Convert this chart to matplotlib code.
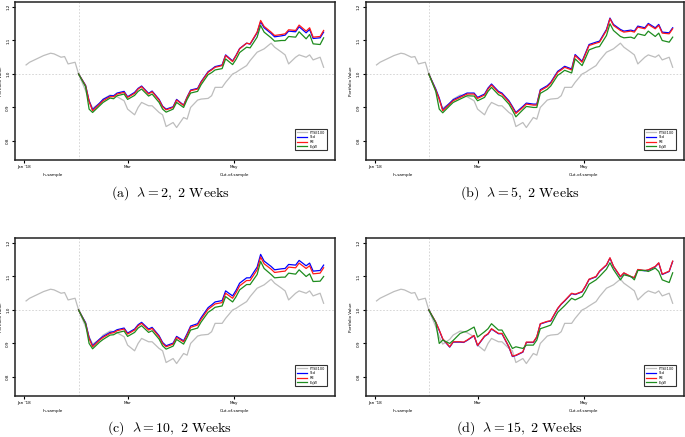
import matplotlib
matplotlib.use("Agg")
import matplotlib.pyplot as plt
import matplotlib.transforms as mtransforms
import pandas as pd

plt.rcParams['mathtext.fontset'] = 'cm'
plt.rcParams['font.family'] = ['DejaVu Sans']

# ---- data ----
dates = pd.bdate_range('2018-01-02', '2018-06-22')[::2]
oos_start = '2018-02-01'
series_names = ["FTSE100", "Std", "RE", "EqW"]
captions = ["(a)", "(b)", "(c)", "(d)"]
lambdas = [2, 5, 10, 15]

benchmark = [1.027, 1.035, 1.045, 1.050, 1.055, 1.062, 1.060, 1.050, 1.052, 1.030, 1.035,
             1.000, 0.950, 0.920, 0.898, 0.912, 0.925, 0.937, 0.935, 0.932, 0.920,
             0.895, 0.878, 0.900, 0.915, 0.905, 0.905, 0.885, 0.878, 0.843, 0.855, 0.840,
             0.870, 0.865, 0.900, 0.922, 0.925, 0.927, 0.935, 0.960, 0.960, 0.975, 1.000,
             1.005, 1.012, 1.025, 1.040, 1.065, 1.070, 1.075, 1.092, 1.080, 1.065, 1.057,
             1.030, 1.050, 1.057, 1.050, 1.057, 1.042, 1.050, 1.020]

blue_a = [1.000, 0.966, 0.920, 0.893, 0.913, 0.924, 0.935, 0.935, 0.943, 0.948,
          0.932, 0.945, 0.957, 0.964, 0.942, 0.949, 0.924, 0.904, 0.895, 0.902, 0.924,
          0.907, 0.931, 0.952, 0.957, 0.977, 1.007, 1.014, 1.022, 1.027, 1.057, 1.039,
          1.056, 1.076, 1.092, 1.089, 1.123, 1.156, 1.138, 1.121, 1.111, 1.114, 1.116,
          1.128, 1.126, 1.141, 1.123, 1.133, 1.106, 1.108, 1.125]
red_a = [1.000, 0.965, 0.918, 0.890, 0.910, 0.920, 0.932, 0.932, 0.940, 0.945,
         0.930, 0.942, 0.955, 0.962, 0.940, 0.947, 0.922, 0.902, 0.893, 0.900, 0.922,
         0.906, 0.930, 0.950, 0.955, 0.975, 1.005, 1.012, 1.020, 1.025, 1.055, 1.037,
         1.055, 1.075, 1.092, 1.090, 1.125, 1.160, 1.142, 1.125, 1.115, 1.118, 1.120,
         1.132, 1.130, 1.146, 1.128, 1.138, 1.110, 1.112, 1.130]
green_a = [1.000, 0.962, 0.895, 0.885, 0.905, 0.915, 0.928, 0.926, 0.935, 0.940,
           0.924, 0.936, 0.948, 0.955, 0.934, 0.940, 0.915, 0.895, 0.886, 0.895, 0.915,
           0.900, 0.924, 0.943, 0.948, 0.968, 0.998, 1.004, 1.012, 1.016, 1.045, 1.028,
           1.044, 1.064, 1.080, 1.078, 1.110, 1.145, 1.125, 1.108, 1.098, 1.100, 1.100,
           1.112, 1.110, 1.126, 1.105, 1.118, 1.090, 1.088, 1.108]

blue_b = [1.000, 0.955, 0.928, 0.893, 0.913, 0.923, 0.933, 0.938, 0.943, 0.943,
          0.930, 0.940, 0.958, 0.970, 0.948, 0.943, 0.920, 0.903, 0.885, 0.903, 0.913,
          0.910, 0.910, 0.953, 0.965, 0.975, 1.008, 1.015, 1.023, 1.015, 1.058, 1.038,
          1.063, 1.088, 1.095, 1.098, 1.133, 1.167, 1.148, 1.133, 1.128, 1.131, 1.128,
          1.143, 1.138, 1.151, 1.138, 1.148, 1.125, 1.123, 1.138]
red_b = [1.000, 0.952, 0.925, 0.890, 0.910, 0.920, 0.930, 0.935, 0.940, 0.940,
         0.927, 0.937, 0.955, 0.967, 0.945, 0.940, 0.917, 0.900, 0.882, 0.900, 0.910,
         0.907, 0.907, 0.950, 0.962, 0.972, 1.005, 1.012, 1.020, 1.012, 1.055, 1.035,
         1.060, 1.085, 1.092, 1.095, 1.130, 1.165, 1.145, 1.130, 1.125, 1.128, 1.125,
         1.140, 1.135, 1.148, 1.135, 1.145, 1.122, 1.120, 1.135]
green_b = [1.000, 0.948, 0.895, 0.884, 0.905, 0.915, 0.925, 0.930, 0.935, 0.934,
           0.920, 0.930, 0.948, 0.960, 0.938, 0.933, 0.910, 0.892, 0.872, 0.893, 0.903,
           0.900, 0.900, 0.942, 0.954, 0.964, 0.996, 1.003, 1.011, 1.003, 1.045, 1.025,
           1.048, 1.072, 1.080, 1.082, 1.115, 1.150, 1.130, 1.112, 1.108, 1.110, 1.106,
           1.120, 1.115, 1.128, 1.112, 1.122, 1.100, 1.095, 1.110]

blue_c = [1.000, 0.962, 0.918, 0.893, 0.913, 0.921, 0.933, 0.935, 0.941, 0.946,
          0.931, 0.943, 0.956, 0.963, 0.943, 0.948, 0.923, 0.903, 0.893, 0.901, 0.921,
          0.908, 0.929, 0.952, 0.959, 0.977, 1.007, 1.015, 1.024, 1.028, 1.057, 1.042,
          1.059, 1.080, 1.096, 1.096, 1.128, 1.166, 1.146, 1.130, 1.120, 1.123, 1.124,
          1.136, 1.134, 1.148, 1.132, 1.140, 1.116, 1.118, 1.134]
red_c = [1.000, 0.960, 0.915, 0.890, 0.910, 0.918, 0.930, 0.932, 0.938, 0.943,
         0.928, 0.940, 0.953, 0.960, 0.940, 0.945, 0.920, 0.900, 0.890, 0.898, 0.918,
         0.905, 0.925, 0.948, 0.955, 0.972, 1.002, 1.010, 1.018, 1.022, 1.050, 1.035,
         1.052, 1.072, 1.088, 1.088, 1.120, 1.158, 1.138, 1.122, 1.112, 1.115, 1.116,
         1.128, 1.126, 1.140, 1.124, 1.132, 1.108, 1.110, 1.126]
green_c = [1.000, 0.958, 0.900, 0.884, 0.904, 0.912, 0.925, 0.926, 0.932, 0.937,
           0.921, 0.933, 0.946, 0.953, 0.933, 0.938, 0.913, 0.893, 0.883, 0.892, 0.912,
           0.898, 0.918, 0.940, 0.946, 0.964, 0.993, 1.000, 1.008, 1.012, 1.040, 1.024,
           1.040, 1.060, 1.076, 1.076, 1.106, 1.145, 1.124, 1.106, 1.096, 1.098, 1.098,
           1.110, 1.107, 1.120, 1.100, 1.108, 1.085, 1.086, 1.100]

blue_d = [1.000, 0.963, 0.939, 0.913, 0.889, 0.904, 0.904, 0.903, 0.909, 0.923,
          0.893, 0.921, 0.928, 0.943, 0.929, 0.929, 0.889, 0.861, 0.864, 0.874, 0.903,
          0.903, 0.919, 0.958, 0.965, 0.967, 1.004, 1.017, 1.027, 1.049, 1.046, 1.054,
          1.071, 1.091, 1.099, 1.115, 1.134, 1.155, 1.130, 1.099, 1.110, 1.099, 1.096,
          1.120, 1.117, 1.119, 1.129, 1.140, 1.106, 1.115, 1.145]
red_d = [1.000, 0.964, 0.940, 0.914, 0.890, 0.905, 0.905, 0.904, 0.910, 0.924,
         0.894, 0.922, 0.929, 0.944, 0.930, 0.930, 0.890, 0.862, 0.865, 0.875, 0.904,
         0.904, 0.920, 0.959, 0.966, 0.968, 1.005, 1.018, 1.028, 1.050, 1.047, 1.055,
         1.072, 1.092, 1.100, 1.116, 1.135, 1.156, 1.131, 1.100, 1.111, 1.100, 1.097,
         1.121, 1.118, 1.120, 1.130, 1.141, 1.107, 1.116, 1.146]
green_d = [1.000, 0.962, 0.900, 0.910, 0.900, 0.909, 0.930, 0.934, 0.937, 0.949,
           0.919, 0.935, 0.944, 0.959, 0.940, 0.940, 0.904, 0.885, 0.890, 0.885, 0.895,
           0.895, 0.910, 0.944, 0.951, 0.955, 0.993, 1.003, 1.013, 1.035, 1.030, 1.040,
           1.057, 1.077, 1.090, 1.100, 1.122, 1.141, 1.121, 1.090, 1.105, 1.100, 1.090,
           1.118, 1.118, 1.115, 1.125, 1.115, 1.090, 1.082, 1.111]

panels = [(blue_a, red_a, green_a), (blue_b, red_b, green_b),
          (blue_c, red_c, green_c), (blue_d, red_d, green_d)]

ytick_vals = [0.8, 0.9, 1.0, 1.1, 1.2]
ytick_labels = ["0.8", "0.9", "1.0", "1.1", "1.2"]
xtick_dates = ['2018-01-01', '2018-03-01', '2018-05-01']
xtick_labels = ["Jan '18", "Mar", "May"]
period_labels = ["In-sample", "Out-of-sample"]
period_pos = ['2018-01-17', '2018-05-01']

colors = {"bench": "#bdbdbd", "blue": "#0000ff", "red": "#ff1a1a", "green": "#1e8c1e"}

# ---- figure ----
W, H = 685, 437
fig = plt.figure(figsize=(W / 100, H / 100), dpi=100)


def rect(l, t, r, b):
    return [l / W, 1 - b / H, (r - l) / W, (b - t) / H]


boxes = [(15, 2, 335, 160), (365.5, 2, 684, 160),
         (15, 238, 335, 396), (365.5, 238, 684, 396)]
cap_y = [193.5, 193.5, 428, 428]

oos_idx = list(dates).index(pd.Timestamp(oos_start))
oos_dates = dates[oos_idx:]

for i, (box, (bl, rd, gr)) in enumerate(zip(boxes, panels)):
    ax = fig.add_axes(rect(*box))
    ax.axhline(1.0, color="#d0d0d0", lw=0.6, ls=(0, (2, 2)), zorder=0)
    ax.axvline(pd.Timestamp(oos_start), color="#d0d0d0", lw=0.6, ls=(0, (2, 2)), zorder=0)
    ax.plot(dates, benchmark, color=colors["bench"], lw=0.9, label=series_names[0])
    ax.plot(oos_dates, bl, color=colors["blue"], lw=0.9, label=series_names[1])
    ax.plot(oos_dates, rd, color=colors["red"], lw=0.9, label=series_names[2])
    ax.plot(oos_dates, gr, color=colors["green"], lw=0.9, label=series_names[3])

    ax.set_xlim(pd.Timestamp('2017-12-26 16:00'), pd.Timestamp('2018-06-27 12:00'))
    ax.set_ylim(0.743, 1.215)
    ax.set_yticks(ytick_vals)
    ax.set_yticklabels(ytick_labels, rotation=90, va='center', fontsize=3)
    ax.set_xticks([pd.Timestamp(d) for d in xtick_dates])
    ax.set_xticklabels(xtick_labels, fontsize=3)
    ax.tick_params(axis='both', length=2, width=0.8, pad=1.5, color='black')
    for s in ax.spines.values():
        s.set_linewidth(1.1)
        s.set_color('#222222')
    ax.set_ylabel("Portfolio Value", fontsize=3)
    ax.yaxis.set_label_coords(-0.038, 0.5)

    trans = mtransforms.blended_transform_factory(ax.transData, ax.transAxes)
    for lab, pos in zip(period_labels, period_pos):
        ax.text(pd.Timestamp(pos), -0.092, lab, transform=trans, fontsize=3,
                ha='center', va='center')

    leg = ax.legend(loc='lower right', bbox_to_anchor=(0.98, 0.05), fontsize=2.5,
                    handlelength=3, frameon=True, fancybox=False, borderpad=0.5,
                    labelspacing=0.2)
    leg.get_frame().set_edgecolor('black')
    leg.get_frame().set_linewidth(0.8)

    l, t, r, b = box
    cx = (l + r) / 2 - 5
    fig.text(cx / W, 1 - cap_y[i] / H,
             r"$\mathrm{%s}\ \ \lambda = %d\mathrm{,\ 2\ Weeks}$" % (captions[i], lambdas[i]),
             ha='center', va='center', fontsize=10)

fig.savefig("out.png", dpi=100)
